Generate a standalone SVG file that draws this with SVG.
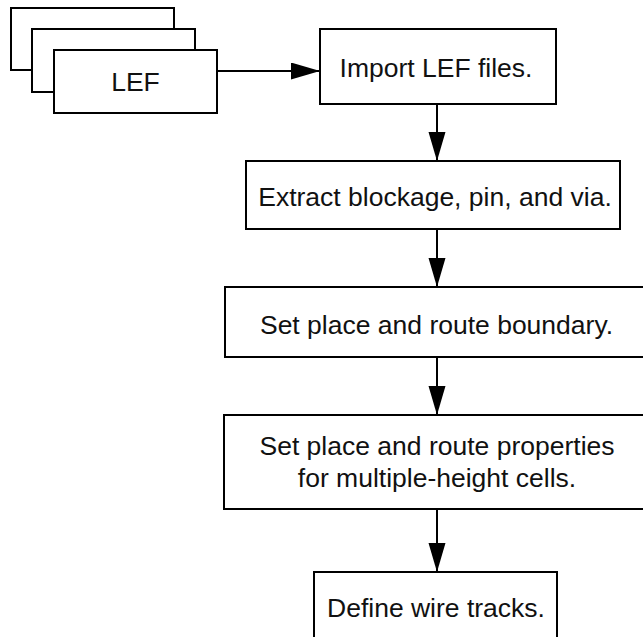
<svg xmlns="http://www.w3.org/2000/svg" width="643" height="637" viewBox="0 0 643 637">
<style>
.box{fill:#fff;stroke:#000;stroke-width:2}
.lbl{font-family:"Liberation Sans",Arial,Helvetica,sans-serif;font-size:26.5px;fill:#111;text-anchor:middle}
.conn{stroke:#000;stroke-width:2;fill:none;marker-end:url(#ah)}
</style>
<defs>
<marker id="ah" markerUnits="userSpaceOnUse" markerWidth="30" markerHeight="18" refX="29" refY="8.5" orient="auto">
<path d="M0,0 L29,8.5 L0,17 z" fill="#000"/>
</marker>
</defs>
<rect width="643" height="637" fill="#fff"/>
<g id="lef">
<rect class="box" x="11" y="8" width="163" height="62"/>
<rect class="box" x="32" y="29" width="163" height="63"/>
<rect class="box" x="54" y="50" width="163" height="63"/>
<text class="lbl" x="135.5" y="91">LEF</text>
</g>
<g id="import">
<rect class="box" x="320" y="29" width="236" height="75"/>
<text class="lbl" x="436" y="77">Import LEF files.</text>
</g>
<g id="extract">
<rect class="box" x="246" y="161" width="374" height="68"/>
<text class="lbl" x="435" y="206">Extract blockage, pin, and via.</text>
</g>
<g id="boundary">
<rect class="box" x="225" y="287" width="424" height="70"/>
<text class="lbl" x="436.5" y="334">Set place and route boundary.</text>
</g>
<g id="props">
<rect class="box" x="224" y="415" width="426" height="94"/>
<text class="lbl" x="437" y="455">Set place and route properties</text>
<text class="lbl" x="437" y="487">for multiple-height cells.</text>
</g>
<g id="tracks">
<rect class="box" x="314" y="572" width="243" height="80"/>
<text class="lbl" x="436" y="617">Define wire tracks.</text>
</g>
<g id="connectors">
<line class="conn" x1="218" y1="71" x2="320" y2="71"/>
<line class="conn" x1="437" y1="105" x2="437" y2="161"/>
<line class="conn" x1="437" y1="230" x2="437" y2="287"/>
<line class="conn" x1="437" y1="358" x2="437" y2="415"/>
<line class="conn" x1="437" y1="510" x2="437" y2="572"/>
</g>
</svg>
